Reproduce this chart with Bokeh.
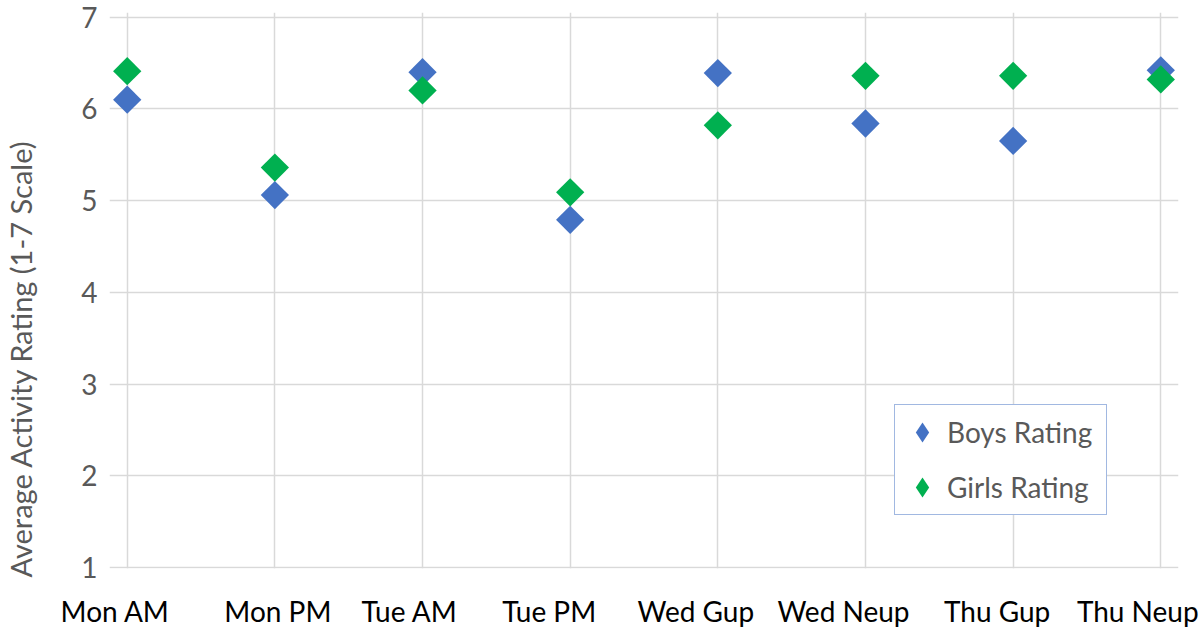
import math

from bokeh.embed import file_html
from bokeh.models import (ColumnDataSource, FixedTicker, Legend, LegendItem,
                          Title)
from bokeh.plotting import figure
from bokeh.resources import INLINE

# --- data -----------------------------------------------------------------
sessions = ["Mon AM", "Mon PM", "Tue AM", "Tue PM",
            "Wed Gup", "Wed Neup", "Thu Gup", "Thu Neup"]
boys_rating = [6.10, 5.06, 6.40, 4.79, 6.39, 5.84, 5.65, 6.42]
girls_rating = [6.41, 5.36, 6.20, 5.09, 5.82, 6.36, 6.36, 6.32]
y_ticks = [1, 2, 3, 4, 5, 6, 7]

# horizontal nudges (px) for the category captions under the plot
caption_nudge = [-12, 3, -13, -21, -22, -22, -16, -23]

FONT = "Lato"
GREY_TEXT = "#595959"
GRID = "#D9D9D9"
BLUE = "#4472C4"
GREEN = "#00B050"

# layout: the frame is a little wider than the gridded area so that the
# edge markers are not cut off
W, H = 1201, 631
BORDER_L, BORDER_R, BORDER_T, BORDER_B = 109, 23, 12, 63
X_PAD, Y_PAD_LO, Y_PAD_HI = 0.12, 0.011, 0.05

positions = list(range(len(sessions)))
x_lo, x_hi = -X_PAD, len(sessions) - 1 + X_PAD
px_per_x = (W - BORDER_L - BORDER_R) / (x_hi - x_lo)

p = figure(width=W, height=H,
           x_range=(x_lo, x_hi), y_range=(1 - Y_PAD_LO, 7 + Y_PAD_HI),
           output_backend="svg", toolbar_location=None,
           min_border_left=BORDER_L, min_border_right=BORDER_R,
           min_border_top=BORDER_T, min_border_bottom=BORDER_B)

p.background_fill_color = "white"
p.border_fill_color = "white"
p.outline_line_color = None

# grid, limited to the categories / rating scale
p.xgrid.ticker = FixedTicker(ticks=positions)
p.xgrid.bounds = (1, 7)
p.ygrid.ticker = FixedTicker(ticks=y_ticks)
p.ygrid.bounds = (0, len(sessions) - 1)
for g in (p.xgrid, p.ygrid):
    g.grid_line_color = GRID
    g.grid_line_width = 1.5

# x axis: category captions
cap_ticks = [round(i + d / px_per_x, 4) for i, d in zip(positions, caption_nudge)]
xax = p.xaxis[0]
xax.ticker = FixedTicker(ticks=cap_ticks)
xax.major_label_overrides = {t: s for t, s in zip(cap_ticks, sessions)}
xax.axis_line_color = None
xax.major_tick_line_color = None
xax.minor_tick_line_color = None
xax.major_tick_out = 0
xax.major_tick_in = 0
xax.major_label_standoff = 25
xax.major_label_text_font = FONT
xax.major_label_text_font_size = "28px"
xax.major_label_text_color = "#000000"

# y axis
yax = p.yaxis[0]
yax.ticker = FixedTicker(ticks=y_ticks)
yax.axis_line_color = None
yax.major_tick_line_color = None
yax.minor_tick_line_color = None
yax.major_tick_out = 0
yax.major_tick_in = 0
yax.major_label_standoff = 12
yax.major_label_text_font = FONT
yax.major_label_text_font_size = "28px"
yax.major_label_text_color = GREY_TEXT

# gap between the tick labels and the axis title
p.add_layout(Title(text=" ", standoff=34, text_font_size="1px"), "left")
p.add_layout(Title(text="Average Activity Rating (1-7 Scale)", align="left",
                   offset=-9, vertical_align="top", standoff=4,
                   text_font=FONT, text_font_size="29px",
                   text_font_style="normal", text_color=GREY_TEXT), "left")

# series (diamond swatches sit underneath and feed the legend)
src = ColumnDataSource(dict(x=positions, boys=boys_rating, girls=girls_rating))
sw_boys = p.scatter("x", "boys", source=src, marker="diamond", size=20,
                    fill_color=BLUE, line_color=None)
sw_girls = p.scatter("x", "girls", source=src, marker="diamond", size=20,
                     fill_color=GREEN, line_color=None)
p.scatter("x", "boys", source=src, marker="square", size=20,
          angle=math.pi / 4, fill_color=BLUE, line_color=None)
p.scatter("x", "girls", source=src, marker="square", size=20,
          angle=math.pi / 4, fill_color=GREEN, line_color=None)

legend = Legend(items=[LegendItem(label="Boys Rating", renderers=[sw_boys]),
                       LegendItem(label="Girls Rating", renderers=[sw_girls])],
                location=(785, 53))
legend.border_line_color = BLUE
legend.border_line_width = 1.5
legend.background_fill_color = "white"
legend.background_fill_alpha = 1.0
legend.padding = 2
legend.spacing = 5
legend.glyph_width = 50
legend.glyph_height = 50
legend.label_height = 50
legend.label_width = 157
legend.label_standoff = 0
legend.label_text_font = FONT
legend.label_text_font_size = "28px"
legend.label_text_color = GREY_TEXT
legend.label_text_baseline = "middle"
p.add_layout(legend)

open("out.html", "w").write(file_html(p, INLINE))
